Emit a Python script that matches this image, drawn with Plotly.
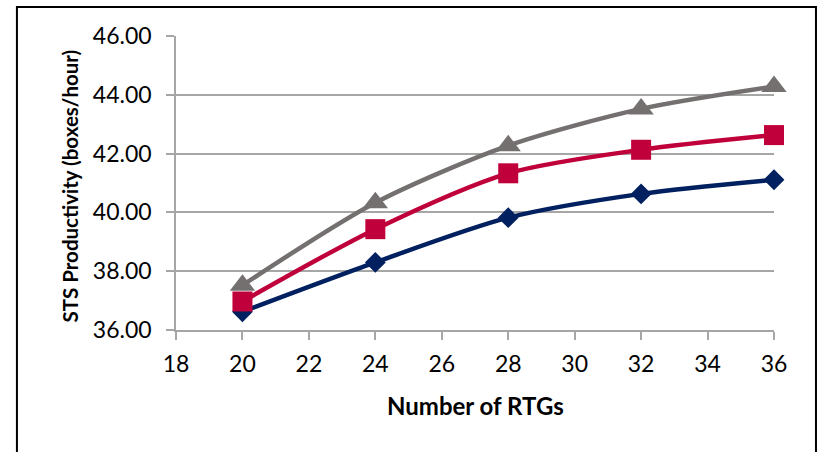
import plotly.graph_objects as go

# Number of RTGs deployed
rtgs = [20, 24, 28, 32, 36]

# STS productivity (boxes/hour) for three scenarios
series_low = [36.62, 38.30, 39.82, 40.63, 41.11]
series_mid = [36.97, 39.43, 41.33, 42.13, 42.63]
series_high = [37.52, 40.33, 42.27, 43.52, 44.28]

x_ticks = [18, 20, 22, 24, 26, 28, 30, 32, 34, 36]
y_ticks = [36, 38, 40, 42, 44, 46]

FONT = "Lato"
GRID = "#A6A6A6"

fig = go.Figure()

styles = [
    (series_low, "#002060", "diamond", 16),
    (series_mid, "#C0003A", "square", 20),
    (series_high, "#747070", "triangle-up", 22),
]
for values, color, symbol, msize in styles:
    fig.add_trace(go.Scatter(
        x=rtgs, y=values, mode="lines+markers",
        line=dict(color=color, width=4.5, shape="spline", smoothing=0.8),
        marker=dict(symbol=symbol, size=msize, color=color, line=dict(width=0)),
        cliponaxis=False, showlegend=False,
    ))

fig.update_xaxes(
    range=[18, 36], tickvals=x_ticks, ticktext=[str(v) for v in x_ticks],
    showgrid=False, zeroline=False,
    showline=True, linecolor=GRID, linewidth=1.5,
    ticks="outside", ticklen=8, tickwidth=1.5, tickcolor=GRID,
    ticklabelstandoff=5,
    tickfont=dict(family=FONT, size=23, color="#000000"),
)
fig.update_yaxes(
    range=[36, 46], tickvals=y_ticks, ticktext=[f"{v:.2f}" for v in y_ticks],
    showgrid=True, gridcolor=GRID, gridwidth=1.5, zeroline=False,
    showline=True, linecolor=GRID, linewidth=1.5,
    ticks="outside", ticklen=8, tickwidth=1.5, tickcolor=GRID,
    ticklabelstandoff=10,
    tickfont=dict(family=FONT, size=23, color="#000000"),
)

# Axis titles
fig.add_annotation(
    text="<b>Number of RTGs</b>", xref="paper", yref="paper",
    x=0.5, y=-0.258, showarrow=False, xanchor="center", yanchor="middle",
    font=dict(family=FONT, size=24, color="#000000"),
)
fig.add_annotation(
    text="<b>STS Productivity (boxes/hour)</b>", xref="paper", yref="paper",
    x=-0.178, y=0.49, showarrow=False, textangle=-90,
    xanchor="center", yanchor="middle",
    font=dict(family=FONT, size=20.5, color="#000000"),
)

# Chart frame
fig.add_shape(
    type="rect", xref="paper", yref="paper",
    x0=-0.266, x1=1.0702, y0=-0.45, y1=1.0986,
    line=dict(color="#000000", width=2), fillcolor="rgba(0,0,0,0)", layer="below",
)

fig.update_layout(
    width=819, height=452,
    margin=dict(l=176, r=45, t=36, b=122),
    paper_bgcolor="#FFFFFF", plot_bgcolor="#FFFFFF",
)

fig.write_html("out.html")
